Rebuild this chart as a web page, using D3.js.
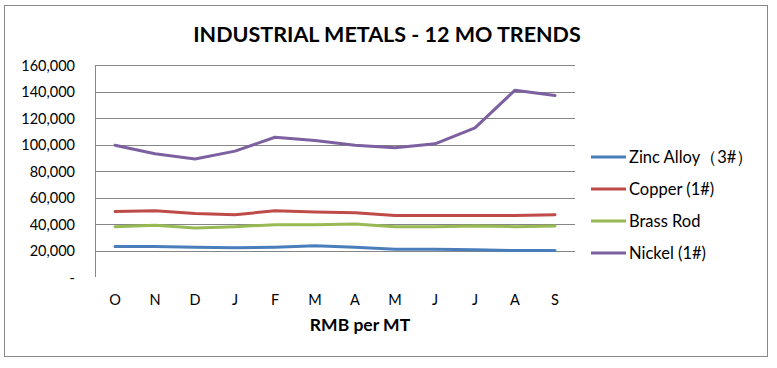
<!DOCTYPE html>
<html><head><meta charset="utf-8">
<script src="https://cdn.jsdelivr.net/npm/d3@7"></script>
<style>body{margin:0;background:#fff;}svg{display:block;font-family:Lato,"Open Sans",sans-serif;}</style>
</head><body>
<svg id="c" width="777" height="368"></svg>
<script>
const months = ["O","N","D","J","F","M","A","M","J","J","A","S"];
const seriesNames = ["Zinc Alloy（3#）","Copper (1#)","Brass Rod","Nickel (1#)"];
const zinc   = [23000,23000,22500,22000,22500,23500,22500,21000,21000,20500,20000,20000];
const copper = [49500,50000,48000,47000,50000,49000,48500,46500,46500,46500,46500,47000];
const brass  = [38000,39000,37000,38000,39500,39500,40000,38000,38000,38500,38000,38500];
const nickel = [99500,93000,89000,95000,105500,103000,99500,97500,100500,112500,141000,137000];
const yTicks = [0,20000,40000,60000,80000,100000,120000,140000,160000];
const colors = ["#4A7EBB","#BE4B48","#98B954","#7D60A0"];
const allSeries = [zinc, copper, brass, nickel];

const svg = d3.select("#c");
svg.append("rect").attr("x",4.5).attr("y",5.5).attr("width",763).attr("height",351)
  .attr("fill","#fff").attr("stroke","#888").attr("stroke-width",1);

const L=95, R=575, T=65, B=277;
const x = d3.scaleBand().domain(d3.range(months.length)).range([L,R]);
const y = d3.scaleLinear().domain([0,160000]).range([B,T]);

// gridlines
svg.append("g").selectAll("line").data(yTicks.filter(d=>d>0)).join("line")
  .attr("x1",L).attr("x2",R).attr("y1",d=>Math.round(y(d))+0.5).attr("y2",d=>Math.round(y(d))+0.5)
  .attr("stroke","#868686").attr("stroke-width",1);
// y axis line
svg.append("line").attr("x1",L+0.5).attr("x2",L+0.5).attr("y1",T).attr("y2",B)
  .attr("stroke","#868686");

// y labels
const fmt = d3.format(",");
svg.append("g").selectAll("text").data(yTicks).join("text")
  .attr("x",75).attr("y",d=>y(d)+5.5).attr("text-anchor","end")
  .attr("font-size",14.5).attr("fill","#000")
  .text(d=>d===0?"-":fmt(d));

// x labels
svg.append("g").selectAll("text").data(months).join("text")
  .attr("x",(d,i)=>x(i)+x.bandwidth()/2).attr("y",305).attr("text-anchor","middle")
  .attr("font-size",14.5).attr("fill","#000").text(d=>d);

// lines
const line = d3.line().x((d,i)=>x(i)+x.bandwidth()/2).y(d=>y(d));
allSeries.forEach((s,k)=>{
  svg.append("path").datum(s).attr("d",line).attr("fill","none")
    .attr("stroke",colors[k]).attr("stroke-width",3).attr("stroke-linejoin","round").attr("stroke-linecap","round");
});

// title
svg.append("text").attr("x",387).attr("y",42).attr("text-anchor","middle")
  .attr("font-size",21.5).attr("font-weight","bold").text("INDUSTRIAL METALS - 12 MO TRENDS");
// axis title
svg.append("text").attr("x",360).attr("y",331).attr("text-anchor","middle")
  .attr("font-size",17.5).attr("font-weight","bold").text("RMB per MT");

// legend
const lg = svg.append("g");
seriesNames.forEach((n,k)=>{
  const yy = 157 + k*32;
  lg.append("line").attr("x1",591).attr("x2",626).attr("y1",yy).attr("y2",yy)
    .attr("stroke",colors[k]).attr("stroke-width",3);
  lg.append("text").attr("x",629).attr("y",yy+6).attr("font-size",16.5).text(n);
});
</script>
</body></html>
